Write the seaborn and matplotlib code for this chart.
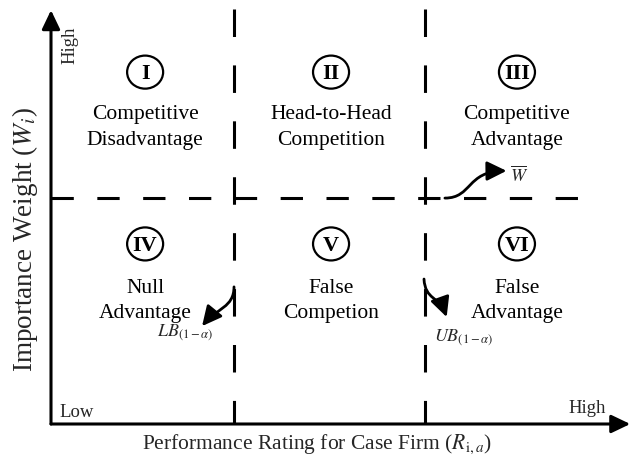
import matplotlib
matplotlib.use("Agg")

import matplotlib.pyplot as plt
import numpy as np
import pandas as pd
import seaborn as sns
from matplotlib.patches import Ellipse, FancyArrowPatch
from matplotlib.path import Path

# Thresholds of the importance-performance grid (axis units 0..1)
LB = 0.315        # lower bound of the confidence interval, LB_(1-alpha)
UB = 0.644        # upper bound of the confidence interval, UB_(1-alpha)
W_BAR = 0.547     # mean importance weight
H_END = 0.94      # where the horizontal dashed line stops
V_TOP = 1.005     # top of the vertical dashed lines

# Quadrant labels
COL_X = [0.162, 0.482, 0.802]
NUMERALS = ["I", "II", "III", "IV", "V", "VI"]
QUAD_TEXT = [
    "Competitive\nDisadvantage",
    "Head-to-Head\nCompetition",
    "Competitive\nAdvantage",
    "Null\nAdvantage",
    "False\nCompetion",
    "False\nAdvantage",
]
ROW_CIRCLE_Y = [0.852, 0.436]
ROW_TEXT_Y = [0.720, 0.300]

X_LABEL = r"Performance Rating for Case Firm ($R_{\mathrm{i},a}$)"
Y_LABEL = r"Importance Weight ($W_i$)"

sns.set_theme(style="white")
plt.rcParams["font.family"] = ["Liberation Serif", "DejaVu Serif"]
plt.rcParams["mathtext.fontset"] = "stix"

fig = plt.figure(figsize=(6.32, 4.56), dpi=100)
ax = fig.add_axes([0, 0, 1, 1])
ax.set_xlim(-51 / 581, 1.0)
ax.set_ylim(-31 / 413, 425 / 413)
ax.axis("off")

LW = 2.2

# axes with arrow heads
axis_arrow = dict(arrowstyle="-|>,head_length=1.15,head_width=0.55", lw=LW,
                  color="black", mutation_scale=10, shrinkA=0, shrinkB=0)
ax.annotate("", xy=(0, 1.002), xytext=(0, 0), arrowprops=axis_arrow)
ax.annotate("", xy=(0.997, 0), xytext=(0, 0), arrowprops=axis_arrow)

# dashed threshold lines
lines = pd.DataFrame({
    "x": [LB, LB, UB, UB, 0, H_END],
    "y": [V_TOP, 0, V_TOP, 0, W_BAR, W_BAR],
    "line": ["lb", "lb", "ub", "ub", "w", "w"],
})
for name, dash in [("lb", (9.0, 9.3)), ("ub", (9.0, 9.3)), ("w", (7.3, 7.7))]:
    sub = lines[lines["line"] == name]
    sns.lineplot(data=sub, x="x", y="y", estimator=None, sort=False, ax=ax,
                 color="black", lw=LW, dashes=False, legend=False)
    ax.lines[-1].set_dashes(dash)
    ax.lines[-1].set_dash_capstyle("butt")

# quadrant numerals and descriptions
for i, (num, txt) in enumerate(zip(NUMERALS, QUAD_TEXT)):
    cx = COL_X[i % 3]
    row = i // 3
    ax.add_patch(Ellipse((cx, ROW_CIRCLE_Y[row]), 0.062, 0.080, fill=False,
                         lw=1.6, ec="black"))
    ax.text(cx, ROW_CIRCLE_Y[row] - 0.002, num, ha="center", va="center",
            fontsize=16, fontweight="bold", color="black")
    ax.text(cx, ROW_TEXT_Y[row], txt, ha="center", va="center",
            fontsize=15.5, color="black", linespacing=1.45)

# curved pointer arrows
head = "-|>,head_length=0.85,head_width=0.42"


def curve(p0, c1, c2, p1):
    path = Path([p0, c1, c2, p1], [Path.MOVETO, Path.CURVE4, Path.CURVE4, Path.CURVE4])
    ax.add_patch(FancyArrowPatch(path=path, arrowstyle=head, mutation_scale=14,
                                 lw=2.0, color="black"))


curve((0.678, W_BAR), (0.725, W_BAR), (0.715, 0.612), (0.784, 0.613))
curve((LB, 0.332), (LB, 0.282), (0.285, 0.280), (0.260, 0.237))
curve((UB - 0.002, 0.351), (UB, 0.300), (0.668, 0.310), (0.681, 0.259))

ax.text(0.790, 0.605, r"$\overline{W}$", ha="left", va="center", fontsize=13)
ax.text(0.231, 0.222, r"$LB_{(1-\alpha)}$", ha="center", va="center", fontsize=13)
ax.text(0.711, 0.212, r"$UB_{(1-\alpha)}$", ha="center", va="center", fontsize=13)

# low / high markers
ax.text(0.033, 0.920, "High", rotation=90, ha="center", va="center", fontsize=13.5)
ax.text(0.014, 0.030, "Low", ha="left", va="center", fontsize=13.5)
ax.text(0.923, 0.041, "High", ha="center", va="center", fontsize=13.5)

# axis titles
ax.text(0.458, -0.046, X_LABEL, ha="center", va="center", fontsize=15.5)
ax.text(-0.045, 0.448, Y_LABEL, rotation=90, ha="center", va="center", fontsize=19.5)

fig.savefig("out.png", dpi=100)
plt.close(fig)
